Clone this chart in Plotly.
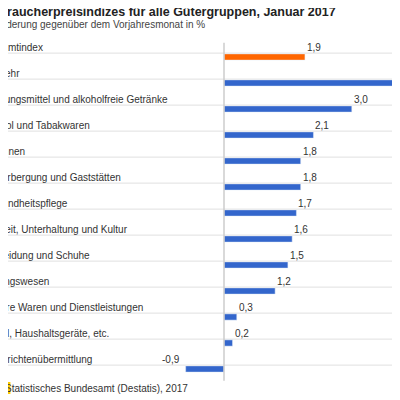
import plotly.graph_objects as go

categories = ["Gesamtindex", "Verkehr", "Nahrungsmittel und alkoholfreie Getränke",
              "Alkohol und Tabakwaren", "Wohnen", "Beherbergung und Gaststätten",
              "Gesundheitspflege", "Freizeit, Unterhaltung und Kultur", "Bekleidung und Schuhe",
              "Bildungswesen", "Andere Waren und Dienstleistungen", "Möbel, Haushaltsgeräte, etc.",
              "Nachrichtenübermittlung"]
values = [1.9, 4.3, 3.0, 2.1, 1.8, 1.8, 1.7, 1.6, 1.5, 1.2, 0.3, 0.2, -0.9]
hidden_px = [18, 17, 19, 21, 14, 18, 18, 19, 18, 20, 19, 20, 18]

colors = ["#ff6600"] + ["#3366cc"] * (len(values) - 1)
idx = list(range(len(values)))
font = "Liberation Sans, Arial, sans-serif"
OFF = 8  # page body margin

fig = go.Figure(go.Bar(x=values, y=idx, orientation="h", marker_color=colors,
                       width=0.24, hoverinfo="skip"))

ann, shapes = [], []
for i, (c, v, h) in enumerate(zip(categories, values, hidden_px)):
    ann.append(dict(x=0, xref="paper", y=i - 0.38, yref="y", text=c, showarrow=False,
                    xanchor="left", yanchor="middle", xshift=-h - OFF,
                    font=dict(size=10, color="#333", family=font)))
    lab = f"{v:.1f}".replace(".", ",")
    ann.append(dict(x=v, xref="x", y=i - 0.38, yref="y", text=lab, showarrow=False,
                    xanchor="left" if v >= 0 else "right", yanchor="middle",
                    xshift=0 if v >= 0 else -4,
                    font=dict(size=10, color="#333", family=font)))
    shapes.append(dict(type="line", xref="paper", x0=0, x1=1, yref="y", y0=i - 0.15, y1=i - 0.15,
                       line=dict(color="#e0e0e0", width=1), layer="below"))
shapes.append(dict(type="line", xref="x", x0=0, x1=0, yref="y", y0=-0.55, y1=12.45,
                   line=dict(color="#cccccc", width=1.5), layer="above"))
shapes.append(dict(type="rect", xref="paper", yref="paper", x0=0, x1=0.006,
                   y0=1 - (394 - OFF)/400, y1=1 - (382 - OFF)/400,
                   fillcolor="#ffcc00", line_width=0))

ann += [
    dict(x=0, xref="paper", y=1 - (12 - OFF)/400, yref="paper",
         text="<b>Verbraucherpreisindizes für alle Gütergruppen, Januar 2017</b>",
         showarrow=False, xanchor="left", yanchor="middle", xshift=-22 - OFF,
         font=dict(size=12.5, color="#222", family=font)),
    dict(x=0, xref="paper", y=1 - (25 - OFF)/400, yref="paper",
         text="Veränderung gegenüber dem Vorjahresmonat in %",
         showarrow=False, xanchor="left", yanchor="middle", xshift=-22 - OFF,
         font=dict(size=10, color="#444", family=font)),
    dict(x=0, xref="paper", y=1 - (388 - OFF)/400, yref="paper",
         text="Statistisches Bundesamt (Destatis), 2017",
         showarrow=False, xanchor="left", yanchor="middle", xshift=3 - OFF,
         font=dict(size=10, color="#333", family=font)),
]

fig.update_layout(width=400, height=400, margin=dict(l=0, r=0, t=0, b=0),
                  plot_bgcolor="white", paper_bgcolor="white", showlegend=False,
                  xaxis=dict(range=[-(224 - OFF)/42.6, (176 + OFF)/42.6], visible=False, fixedrange=True),
                  yaxis=dict(range=[(400 - 57 + OFF)/26, -(57 - OFF)/26], visible=False),
                  annotations=ann, shapes=shapes)
fig.write_html("out.html")
